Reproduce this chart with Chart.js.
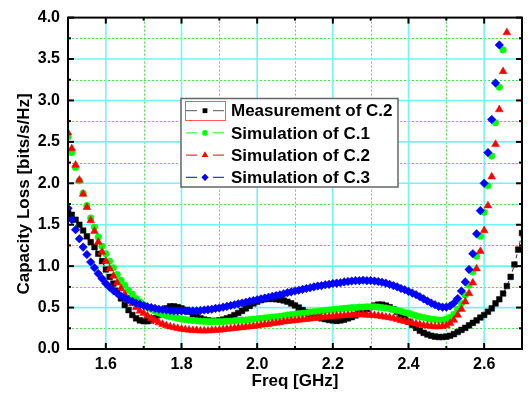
<!DOCTYPE html>
<html>
<head>
<meta charset="utf-8">
<script src="https://cdn.jsdelivr.net/npm/chart.js"></script>
<style>
  html, body { margin: 0; padding: 0; background: #fff; }
  #wrap { width: 530px; height: 402px; }
</style>
</head>
<body>
<div id="wrap"><canvas id="lossChart" width="530" height="402"></canvas></div>
<script>
// frequency grid (GHz)
const freq = [
  1.50, 1.51, 1.52, 1.53, 1.54, 1.55, 1.56, 1.57, 1.58, 1.59,
  1.60, 1.61, 1.62, 1.63, 1.64, 1.65, 1.66, 1.67, 1.68, 1.69,
  1.70, 1.71, 1.72, 1.73, 1.74, 1.75, 1.76, 1.77, 1.78, 1.79,
  1.80, 1.81, 1.82, 1.83, 1.84, 1.85, 1.86, 1.87, 1.88, 1.89,
  1.90, 1.91, 1.92, 1.93, 1.94, 1.95, 1.96, 1.97, 1.98, 1.99,
  2.00, 2.01, 2.02, 2.03, 2.04, 2.05, 2.06, 2.07, 2.08, 2.09,
  2.10, 2.11, 2.12, 2.13, 2.14, 2.15, 2.16, 2.17, 2.18, 2.19,
  2.20, 2.21, 2.22, 2.23, 2.24, 2.25, 2.26, 2.27, 2.28, 2.29,
  2.30, 2.31, 2.32, 2.33, 2.34, 2.35, 2.36, 2.37, 2.38, 2.39,
  2.40, 2.41, 2.42, 2.43, 2.44, 2.45, 2.46, 2.47, 2.48, 2.49,
  2.50, 2.51, 2.52, 2.53, 2.54, 2.55, 2.56, 2.57, 2.58, 2.59,
  2.60, 2.61, 2.62, 2.63, 2.64, 2.65, 2.66, 2.67, 2.68, 2.69,
  2.70
];

// capacity loss, bits/s/Hz
const measC2 = [
  1.68, 1.62, 1.56, 1.50, 1.43, 1.36, 1.29, 1.23, 1.15, 1.06,
  0.96, 0.87, 0.79, 0.70, 0.61, 0.53, 0.47, 0.41, 0.37, 0.345,
  0.335, 0.335, 0.345, 0.37, 0.41, 0.45, 0.49, 0.515, 0.515, 0.505,
  0.49, 0.47, 0.45, 0.42, 0.39, 0.37, 0.355, 0.345, 0.34, 0.34,
  0.345, 0.355, 0.37, 0.385, 0.41, 0.435, 0.46, 0.49, 0.52, 0.55,
  0.57, 0.59, 0.60, 0.605, 0.605, 0.60, 0.595, 0.585, 0.57, 0.55,
  0.525, 0.50, 0.47, 0.445, 0.42, 0.40, 0.385, 0.37, 0.36, 0.35,
  0.345, 0.34, 0.345, 0.355, 0.37, 0.385, 0.405, 0.43, 0.455, 0.48,
  0.505, 0.525, 0.535, 0.535, 0.525, 0.505, 0.48, 0.45, 0.41, 0.37,
  0.33, 0.29, 0.255, 0.22, 0.195, 0.175, 0.16, 0.15, 0.145, 0.145,
  0.15, 0.16, 0.18, 0.205, 0.23, 0.255, 0.285, 0.315, 0.345, 0.38,
  0.41, 0.45, 0.49, 0.55, 0.60, 0.67, 0.76, 0.87, 1.02, 1.20,
  1.40
];
const simC1 = [
  2.56, 2.37, 2.19, 2.03, 1.88, 1.73, 1.58, 1.47, 1.35, 1.24,
  1.15, 1.06, 0.98, 0.90, 0.83, 0.77, 0.71, 0.66, 0.61, 0.57,
  0.535, 0.505, 0.48, 0.455, 0.435, 0.415, 0.40, 0.39, 0.38, 0.37,
  0.36, 0.355, 0.35, 0.345, 0.34, 0.335, 0.335, 0.33, 0.33, 0.33,
  0.33, 0.33, 0.335, 0.335, 0.34, 0.345, 0.35, 0.35, 0.355, 0.36,
  0.365, 0.37, 0.375, 0.38, 0.385, 0.39, 0.395, 0.40, 0.41, 0.415,
  0.42, 0.425, 0.43, 0.435, 0.445, 0.45, 0.455, 0.46, 0.465, 0.47,
  0.475, 0.48, 0.485, 0.49, 0.495, 0.50, 0.50, 0.505, 0.505, 0.51,
  0.51, 0.51, 0.505, 0.50, 0.495, 0.485, 0.475, 0.465, 0.455, 0.44,
  0.43, 0.415, 0.40, 0.39, 0.38, 0.37, 0.36, 0.355, 0.35, 0.35,
  0.36, 0.38, 0.42, 0.48, 0.55, 0.65, 0.77, 0.93, 1.12, 1.36,
  1.65, 1.97, 2.33, 2.73, 3.16, 3.61
];
const simC2 = [
  2.61, 2.42, 2.22, 2.04, 1.87, 1.71, 1.55, 1.42, 1.29, 1.17,
  1.06, 0.97, 0.88, 0.80, 0.73, 0.66, 0.60, 0.55, 0.50, 0.46,
  0.43, 0.40, 0.37, 0.345, 0.32, 0.30, 0.285, 0.27, 0.26, 0.25,
  0.24, 0.235, 0.23, 0.225, 0.225, 0.22, 0.22, 0.22, 0.225, 0.225,
  0.23, 0.235, 0.24, 0.245, 0.25, 0.255, 0.26, 0.265, 0.27, 0.275,
  0.28, 0.29, 0.295, 0.30, 0.31, 0.315, 0.32, 0.33, 0.335, 0.34,
  0.345, 0.35, 0.355, 0.36, 0.365, 0.37, 0.375, 0.38, 0.385, 0.39,
  0.395, 0.40, 0.40, 0.405, 0.41, 0.41, 0.415, 0.415, 0.415, 0.41,
  0.41, 0.405, 0.40, 0.395, 0.385, 0.38, 0.37, 0.36, 0.345, 0.335,
  0.325, 0.315, 0.305, 0.295, 0.285, 0.28, 0.275, 0.27, 0.27, 0.275,
  0.285, 0.31, 0.35, 0.41, 0.48, 0.57, 0.67, 0.80, 0.97, 1.18,
  1.43, 1.73, 2.08, 2.47, 2.89, 3.35, 3.82
];
const simC3 = [
  1.70, 1.56, 1.44, 1.33, 1.23, 1.14, 1.05, 0.98, 0.91, 0.85,
  0.79, 0.745, 0.705, 0.67, 0.64, 0.615, 0.595, 0.575, 0.555, 0.54,
  0.525, 0.51, 0.50, 0.49, 0.48, 0.475, 0.47, 0.465, 0.46, 0.46,
  0.46, 0.46, 0.46, 0.46, 0.46, 0.465, 0.47, 0.475, 0.48, 0.49,
  0.495, 0.505, 0.515, 0.525, 0.535, 0.545, 0.555, 0.565, 0.575, 0.585,
  0.595, 0.605, 0.615, 0.625, 0.635, 0.645, 0.655, 0.665, 0.68, 0.69,
  0.70, 0.71, 0.72, 0.73, 0.74, 0.75, 0.76, 0.765, 0.775, 0.78,
  0.79, 0.795, 0.80, 0.81, 0.815, 0.82, 0.825, 0.825, 0.83, 0.825,
  0.825, 0.82, 0.815, 0.805, 0.795, 0.78, 0.765, 0.75, 0.73, 0.715,
  0.695, 0.675, 0.655, 0.63, 0.605, 0.58, 0.555, 0.535, 0.515, 0.505,
  0.505, 0.52, 0.555, 0.61, 0.70, 0.81, 0.96, 1.15, 1.39, 1.67,
  2.00, 2.37, 2.77, 3.21, 3.67
];

const seriesNames = ['Measurement of C.2', 'Simulation of C.1', 'Simulation of C.2', 'Simulation of C.3'];

const xTicks = [1.6, 1.8, 2.0, 2.2, 2.4, 2.6];
const xMinor = [1.7, 1.9, 2.1, 2.3, 2.5];
const yTicks = [0, 0.5, 1.0, 1.5, 2.0, 2.5, 3.0, 3.5, 4.0];
const yMinor = [0.25, 0.75, 1.25, 1.75, 2.25, 2.75, 3.25, 3.75];

const xTitle = 'Freq [GHz]';
const yTitle = 'Capacity Loss [bits/s/Hz]';

const FONT = '"Liberation Sans", Arial, sans-serif';

function pairs(values) {
    return values.map((v, i) => ({ x: freq[i], y: v }));
}

function series(label, values, color, style, radius, order, line) {
    return {
        label: label,
        data: pairs(values),
        borderColor: color,
        backgroundColor: color,
        borderWidth: 0.8,
        borderDash: [4, 3],
        showLine: line,
        pointStyle: style,
        pointRadius: radius,
        pointBorderWidth: 0.5,
        pointBackgroundColor: color,
        pointBorderColor: color,
        tension: 0,
        order: order
    };
}

// grid, inward ticks, frame, y title and the boxed legend
const originLook = {
    id: 'originLook',
    beforeDatasetsDraw(chart) {
        const { ctx, chartArea: a, scales: { x, y } } = chart;
        ctx.save();
        ctx.lineWidth = 1;
        ctx.strokeStyle = '#44e844';
        ctx.setLineDash([2, 2]);
        xMinor.forEach(v => {
            const px = Math.round(x.getPixelForValue(v)) + 0.5;
            ctx.beginPath(); ctx.moveTo(px, a.top); ctx.lineTo(px, a.bottom); ctx.stroke();
        });
        yMinor.forEach(v => {
            const py = Math.round(y.getPixelForValue(v)) + 0.5;
            ctx.beginPath(); ctx.moveTo(a.left, py); ctx.lineTo(a.right, py); ctx.stroke();
        });
        ctx.setLineDash([]);
        ctx.strokeStyle = '#70f4f4';
        ctx.lineWidth = 1.6;
        xTicks.forEach(v => {
            const px = x.getPixelForValue(v);
            ctx.beginPath(); ctx.moveTo(px, a.top); ctx.lineTo(px, a.bottom); ctx.stroke();
        });
        yTicks.slice(1, -1).forEach(v => {
            const py = y.getPixelForValue(v);
            ctx.beginPath(); ctx.moveTo(a.left, py); ctx.lineTo(a.right, py); ctx.stroke();
        });
        ctx.restore();
    },
    afterDatasetsDraw(chart) {
        const { ctx, chartArea: a, scales: { x, y } } = chart;
        ctx.save();
        ctx.strokeStyle = '#000';
        ctx.lineWidth = 2;
        ctx.strokeRect(a.left, a.top, a.right - a.left, a.bottom - a.top);

        const seg = (x1, y1, x2, y2) => {
            ctx.beginPath(); ctx.moveTo(x1, y1); ctx.lineTo(x2, y2); ctx.stroke();
        };
        const xMarks = (vals, len) => vals.forEach(v => {
            const px = x.getPixelForValue(v);
            seg(px, a.bottom, px, a.bottom - len);
            seg(px, a.top, px, a.top + len);
        });
        const yMarks = (vals, len) => vals.forEach(v => {
            const py = y.getPixelForValue(v);
            seg(a.left, py, a.left + len, py);
            seg(a.right, py, a.right - len, py);
        });
        xMarks(xTicks, 6);
        xMarks(xMinor, 3);
        yMarks(yTicks, 6);
        yMarks(yMinor, 3);

        // y axis title
        ctx.fillStyle = '#000';
        ctx.font = 'bold 17px ' + FONT;
        ctx.textAlign = 'center';
        ctx.textBaseline = 'middle';
        ctx.save();
        ctx.translate(24, 194);
        ctx.rotate(-Math.PI / 2);
        ctx.fillText(yTitle, 0, 0);
        ctx.restore();

        // legend box
        const box = { l: 181, t: 98.5, r: 398, b: 187 };
        ctx.fillStyle = '#fff';
        ctx.fillRect(box.l, box.t, box.r - box.l, box.b - box.t);
        ctx.strokeStyle = '#666';
        ctx.lineWidth = 1.5;
        ctx.strokeRect(box.l, box.t, box.r - box.l, box.b - box.t);

        chart.data.datasets.forEach((ds, i) => {
            const cy = 110.7 + i * 22.2;
            ctx.strokeStyle = i === 0 ? '#555' : ds.pointBorderColor;
            ctx.lineWidth = 1;
            seg(186, cy, 197, cy);
            seg(213, cy, 224, cy);
            ctx.fillStyle = ds.pointBackgroundColor;
            ctx.strokeStyle = ds.pointBorderColor;
            Chart.helpers.drawPoint(ctx, {
                pointStyle: ds.pointStyle, radius: ds.pointRadius * 0.85, rotation: 0, borderWidth: 0
            }, 205, cy);
            ctx.fillStyle = '#000';
            ctx.font = 'bold 17px ' + FONT;
            ctx.textAlign = 'left';
            ctx.textBaseline = 'middle';
            ctx.fillText(ds.label, 231, cy + 1);
        });
        // selection frame around the first legend sample
        ctx.strokeStyle = '#ff5a5a';
        ctx.lineWidth = 1;
        ctx.strokeRect(185.5, 101.5, 40, 19);
        ctx.restore();
    }
};

document.addEventListener('DOMContentLoaded', function () {
    const ctx = document.getElementById('lossChart').getContext('2d');
    const lossChart = new Chart(ctx, {
        type: 'line',
        data: {
            datasets: [
                series(seriesNames[0], measC2, '#000000', 'rect', 4.0, 3, true),
                series(seriesNames[1], simC1, '#00ff00', 'circle', 3.3, 2, false),
                series(seriesNames[2], simC2, '#ff0000', 'triangle', 4.5, 1, false),
                series(seriesNames[3], simC3, '#0000ff', 'rectRot', 4.3, 0, false)
            ]
        },
        options: {
            responsive: false,
            animation: false,
            layout: { padding: { top: 15, right: 8, left: 0, bottom: 0 } },
            plugins: {
                legend: { display: false },
                tooltip: { enabled: false }
            },
            scales: {
                x: {
                    type: 'linear',
                    min: 1.5,
                    max: 2.7,
                    grid: { display: false, drawTicks: false },
                    border: { display: false },
                    afterBuildTicks: s => { s.ticks = xTicks.map(v => ({ value: v })); },
                    afterFit: s => { s.height = 53; },
                    ticks: {
                        autoSkip: false,
                        maxRotation: 0,
                        padding: 6,
                        color: '#000',
                        font: { family: FONT, size: 16, weight: 'bold' },
                        callback: v => Number(v).toFixed(1)
                    },
                    title: {
                        display: true,
                        text: xTitle,
                        color: '#000',
                        padding: { top: 0, bottom: 10 },
                        font: { family: FONT, size: 17, weight: 'bold' }
                    }
                },
                y: {
                    type: 'linear',
                    min: 0,
                    max: 4,
                    grid: { display: false, drawTicks: false },
                    border: { display: false },
                    afterBuildTicks: s => { s.ticks = yTicks.map(v => ({ value: v })); },
                    afterFit: s => { s.width = 68; },
                    ticks: {
                        autoSkip: false,
                        padding: 8,
                        color: '#000',
                        font: { family: FONT, size: 16, weight: 'bold' },
                        callback: v => Number(v).toFixed(1)
                    }
                }
            }
        },
        plugins: [originLook]
    });
});
</script>
</body>
</html>
